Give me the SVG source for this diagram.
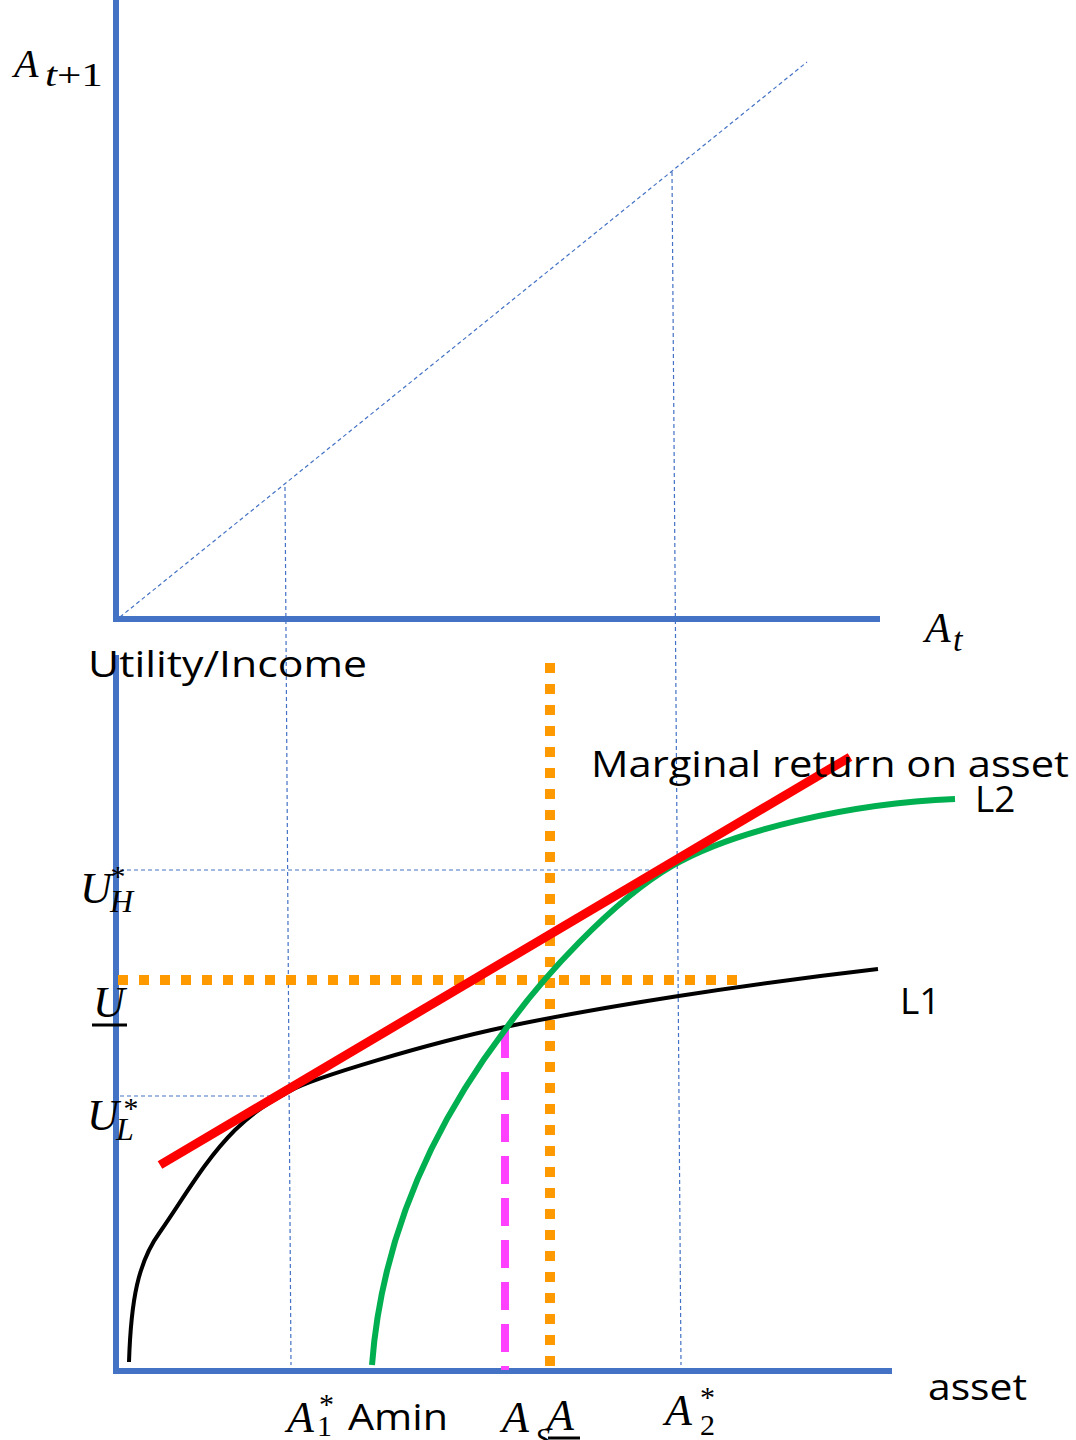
<svg xmlns="http://www.w3.org/2000/svg" width="1076" height="1440" viewBox="0 0 1076 1440">
<style>
.axis{stroke:#4472C4;stroke-width:6;fill:none}
.guide{stroke:#4472C4;stroke-width:1.2;stroke-dasharray:4 3;fill:none}
.orange{stroke:#FF9900;stroke-width:10;stroke-dasharray:10 11;fill:none}
.math{font-family:"Liberation Serif","DejaVu Serif",serif;font-style:italic;fill:#000}
.up{font-style:normal}
.lbl{font-family:"Open Sans","Noto Sans","Liberation Sans",sans-serif;fill:#000}
</style>
<rect width="1076" height="1440" fill="#fff"/>
<g id="axes">
<path class="axis" d="M116,0 V622 M113,619 H880"/>
<path class="axis" d="M116,655 V1374 M113,1371 H892"/>
</g>
<g id="connectors">
<path class="guide" d="M120,617 L807,62"/>
<path class="guide" d="M285,487 L291,1365"/>
<path class="guide" d="M672,172 L681,1365"/>
<path class="guide" d="M120,870 H672"/>
<path class="guide" d="M120,1096 H290"/>
<path class="orange" d="M118,980 H746"/>
<path class="orange" d="M550,663 V1372"/>
<path d="M505,1030 V1370" stroke="#FF40FF" stroke-width="8" stroke-dasharray="28 14" fill="none"/>
</g>
<g id="L1">
<path d="M129,1362 C131,1300 138,1262 160,1232 C185,1196 205,1160 235,1130 C255,1111 268,1103 290,1091 C312,1078 430,1043 505,1027 C600,1007 740,985 878,969" stroke="#000" stroke-width="4" fill="none"/>
</g>
<g id="L2">
<path d="M372,1365 C381,1245 428,1132 505,1030 C541,979 612,901 672,866 C732,831 850,803 955,799" stroke="#00B050" stroke-width="6" fill="none"/>
</g>
<g id="marginal-return">
<path d="M160,1165 L850,757" stroke="#FF0000" stroke-width="9" fill="none"/>
</g>
<g id="labels">
<text class="math" x="14" y="77" font-size="40">A</text>
<text class="math" x="45" y="86" font-size="33" textLength="58" lengthAdjust="spacingAndGlyphs">t<tspan class="up">+1</tspan></text>
<text class="math" x="925" y="642" font-size="42">A</text>
<text class="math" x="953" y="651" font-size="34">t</text>
<text class="lbl" x="88" y="677" font-size="37" textLength="279" lengthAdjust="spacingAndGlyphs">Utility/Income</text>
<text class="lbl" x="591" y="777" font-size="37" textLength="478" lengthAdjust="spacingAndGlyphs">Marginal return on asset</text>
<text class="lbl" x="975" y="812" font-size="37">L2</text>
<text class="lbl" x="900" y="1014" font-size="37">L1</text>
<text class="lbl" x="928" y="1400" font-size="37" textLength="99" lengthAdjust="spacingAndGlyphs">asset</text>
<text class="math" x="80" y="903" font-size="44">U</text>
<text class="math" x="110" y="912" font-size="32">H</text>
<text class="math" x="109" y="886" font-size="30">*</text>
<text class="math" x="93" y="1017" font-size="44">U</text>
<path d="M92,1025 H127" stroke="#000" stroke-width="3"/>
<text class="math" x="87" y="1130" font-size="44">U</text>
<text class="math" x="116" y="1140" font-size="32">L</text>
<text class="math" x="122" y="1118" font-size="30">*</text>
<text class="math" x="287" y="1432" font-size="44">A</text>
<text class="math up" x="317" y="1436" font-size="30">1</text>
<text class="math up" x="319" y="1414" font-size="30">*</text>
<text class="lbl" x="348" y="1430" font-size="36" textLength="100" lengthAdjust="spacingAndGlyphs">Amin</text>
<text class="math" x="502" y="1432" font-size="44">A</text>
<text class="math" x="535" y="1448" font-size="30">S</text>
<text class="math" x="547" y="1430" font-size="44">A</text>
<path d="M548,1438 H580" stroke="#000" stroke-width="3"/>
<text class="math" x="665" y="1425" font-size="44">A</text>
<text class="math up" x="700" y="1435" font-size="30">2</text>
<text class="math up" x="700" y="1407" font-size="30">*</text>
</g>
</svg>
